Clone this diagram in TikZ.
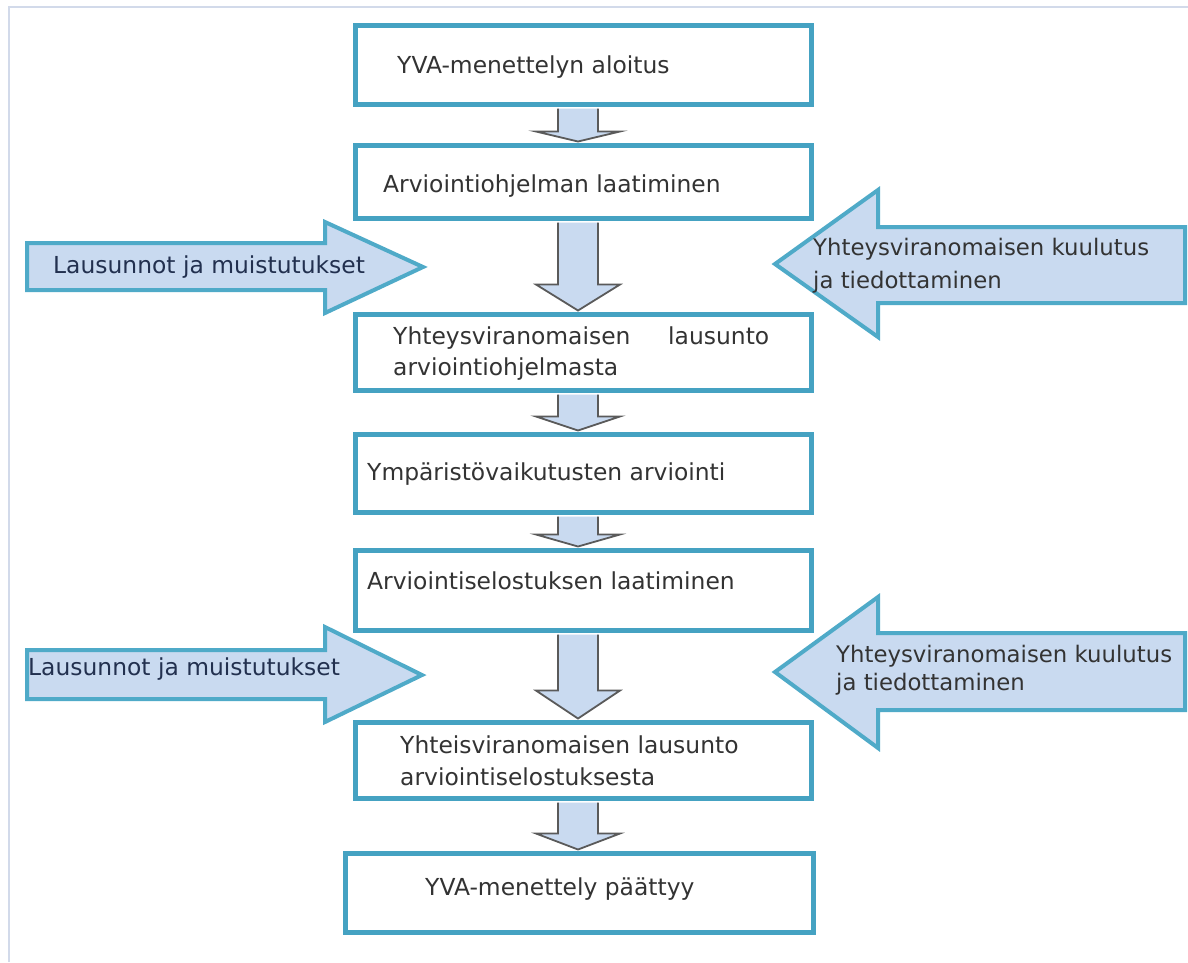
\documentclass[tikz,border=0pt]{standalone}
\usepackage{fontspec}
\setmainfont{DejaVu Sans}
\usetikzlibrary{calc}
\definecolor{boxline}{HTML}{45A2C2}
\definecolor{sideline}{HTML}{4FAAC8}
\definecolor{fillb}{HTML}{C9DAF0}
\definecolor{txt}{HTML}{333333}
\definecolor{navy}{HTML}{22304F}
\definecolor{framec}{HTML}{D2DAEA}
\definecolor{shaftline}{HTML}{5A5A5A}
\newcommand\blockdown[4]{% from, to, head length, name
  \coordinate (#4s) at ($(#1.south)+(-5,2)$);
  \coordinate (#4t) at ($(#4s |- #2.north)+(0,-1)$);
  \filldraw[downarr] ($(#4s)+(-20,0)$)
    -- ($(#4t)+(-20,-#3)$) -- ($(#4t)+(-42,-#3)$)
    -- (#4t)
    -- ($(#4t)+(42,-#3)$) -- ($(#4t)+(20,-#3)$)
    -- ($(#4s)+(20,0)$);}
\begin{document}
\begin{tikzpicture}[x=1pt,y=-1pt,
  box/.style={draw=boxline, line width=5pt, fill=white, inner sep=0pt},
  lbl/.style={anchor=base west, inner sep=0pt, text=txt, font=\fontsize{23.4}{28}\selectfont},
  slbl/.style={lbl, font=\fontsize{22.8}{27}\selectfont},
  nlbl/.style={lbl, text=navy},
  downarr/.style={draw=shaftline, line width=1.8pt, fill=fillb, line join=miter},
  sidearr/.style={draw=sideline, line width=4pt, fill=fillb, line join=miter}]

\useasboundingbox (0,0) rectangle (1188,962);
\fill[white] (0,0) rectangle (1188,962);
\draw[framec, line width=1.5pt] (9,962) -- (9,7) -- (1188,7);

% boxes
\node[box, minimum width=456, minimum height=79] (b1) at (583,64.5) {};
\node[box, minimum width=456, minimum height=73] (b2) at (583,181.5) {};
\node[box, minimum width=456, minimum height=76] (b3) at (583,352) {};
\node[box, minimum width=456, minimum height=78] (b4) at (583,473) {};
\node[box, minimum width=456, minimum height=80] (b5) at (583,590) {};
\node[box, minimum width=456, minimum height=76] (b6) at (583,760) {};
\node[box, minimum width=468, minimum height=79] (b7) at (579,892.5) {};

% down block arrows
\blockdown{b1}{b2}{10}{a1}
\blockdown{b2}{b3}{26}{a2}
\blockdown{b3}{b4}{14}{a3}
\blockdown{b4}{b5}{12}{a4}
\blockdown{b5}{b6}{28}{a5}
\blockdown{b6}{b7}{16}{a6}

% side arrows
\draw[sidearr] (27,243) -- (325,243) -- (325,222) -- (423,267) -- (325,313) -- (325,290) -- (27,290) -- cycle;
\draw[sidearr] (27,650) -- (325,650) -- (325,627) -- (422,675) -- (325,722) -- (325,699) -- (27,699) -- cycle;
\draw[sidearr] (1185,227) -- (878,227) -- (878,190) -- (775,264) -- (878,337) -- (878,303) -- (1185,303) -- cycle;
\draw[sidearr] (1185,633) -- (878,633) -- (878,597) -- (775,672) -- (878,748) -- (878,710) -- (1185,710) -- cycle;

% texts
\node[lbl] (t1) at (397,73) {YVA-menettelyn aloitus};
\node[lbl] (t2) at (383,192) {Arviointiohjelman laatiminen};
\node[lbl] (t3a) at (393,344) {Yhteysviranomaisen};
\node[lbl] (t3b) at (668,344) {lausunto};
\node[lbl] (t3c) at (393,375) {arviointiohjelmasta};
\node[lbl] (t4) at (367,480) {Ympäristövaikutusten arviointi};
\node[lbl] (t5) at (367,589) {Arviointiselostuksen laatiminen};
\node[lbl] (t6a) at (400,753) {Yhteisviranomaisen lausunto};
\node[lbl] (t6b) at (400,785) {arviointiselostuksesta};
\node[lbl] (t7) at (425,895) {YVA-menettely päättyy};

\node[nlbl] (l1) at (53,273) {Lausunnot ja muistutukset};
\node[nlbl] (l2) at (28,675) {Lausunnot ja muistutukset};
\node[slbl] (r1a) at (813,255) {Yhteysviranomaisen kuulutus};
\node[slbl] (r1b) at (813,288) {ja tiedottaminen};
\node[slbl] (r2a) at (836,662) {Yhteysviranomaisen kuulutus};
\node[slbl] (r2b) at (836,690) {ja tiedottaminen};
\end{tikzpicture}
\end{document}
